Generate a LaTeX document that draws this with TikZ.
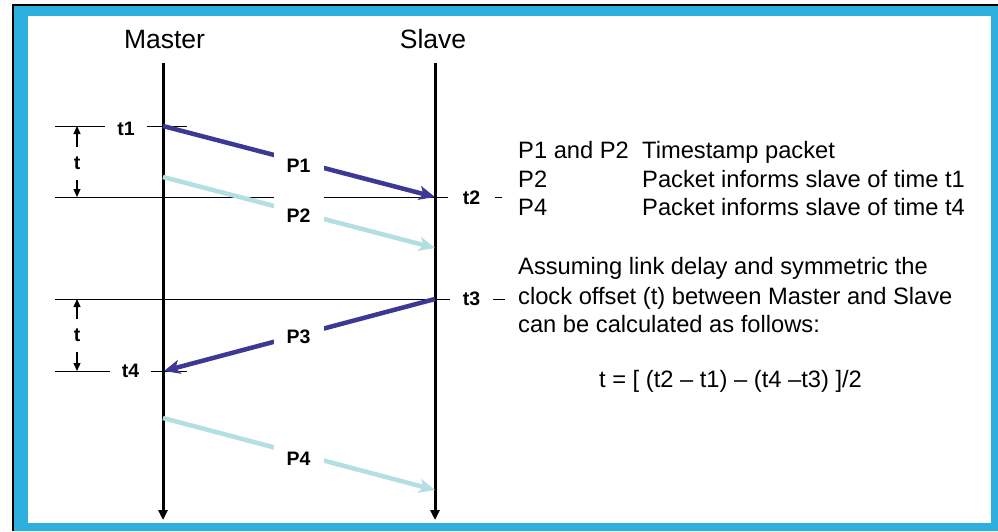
\documentclass[tikz,border=0pt]{standalone}
\usepackage{fontspec}
\setmainfont{Liberation Sans}
\usetikzlibrary{arrows.meta}
\definecolor{frameblue}{HTML}{2DB0DE}
\definecolor{darkarrow}{HTML}{3C3896}
\definecolor{lightarrow}{HTML}{B3DEE2}
\begin{document}
\begin{tikzpicture}[x=1pt,y=-1pt,
  txt/.style={font=\fontsize{23.7}{28}\selectfont, inner sep=0pt, anchor=base west},
  headtxt/.style={font=\fontsize{26.5}{30}\selectfont, inner sep=0pt, anchor=base},
  plabel/.style={font=\bfseries\fontsize{19.5}{22}\selectfont, fill=white, minimum width=50pt, minimum height=44pt, inner sep=0pt},
  tlabel/.style={font=\bfseries\fontsize{19.5}{22}\selectfont, fill=white, inner xsep=0pt, inner ysep=2pt},
  dimlabel/.style={font=\bfseries\fontsize{19.5}{22}\selectfont, fill=white, minimum height=33pt, inner sep=0pt},
  timeline/.style={line width=3pt, -{Triangle[length=10pt,width=9pt]}},
  tick/.style={line width=1pt},
  dimarrow/.style={line width=1.2pt, {Triangle[length=8pt,width=7pt]}-{Triangle[length=8pt,width=7pt]}},
  pkt/.style={line width=4.5pt, -{Stealth[length=16pt,width=14pt,inset=4pt]}},
]
\useasboundingbox (0,0) rectangle (998,531);
% frame
\fill[frameblue] (14,6) rectangle (998,531);
\fill[white] (28,16) rectangle (991,523);
\draw[line width=2pt] (13,4) -- (13,531);
\draw[line width=2pt] (12,5) -- (998,5);

% headings
\node[headtxt] (master) at (164.5,48) {Master};
\node[headtxt] (slave) at (433,48) {Slave};

% coordinates
\coordinate (mtop) at (163,63);
\coordinate (mbot) at (163,520);
\coordinate (stop) at (435,63);
\coordinate (sbot) at (435,520);
\coordinate (t1a) at (55,126);  \coordinate (t1b) at (187,126);
\coordinate (t2a) at (55,197);  \coordinate (t2b) at (502,197);
\coordinate (t3a) at (55,299);  \coordinate (t3b) at (505,299);
\coordinate (t4a) at (55,371);  \coordinate (t4b) at (187,371);
\coordinate (d1a) at (77,126);  \coordinate (d1b) at (77,197);
\coordinate (d2a) at (77,299);  \coordinate (d2b) at (77,371);
\coordinate (p1s) at (163,126); \coordinate (p1e) at (435,197);
\coordinate (p2s) at (163,177); \coordinate (p2e) at (435,248);
\coordinate (p3s) at (435,299); \coordinate (p3e) at (164,371);
\coordinate (p4s) at (163,418); \coordinate (p4e) at (435,490);

% tick lines
\draw[tick] (t1a) -- (t1b);
\draw[tick] (t2a) -- (t2b);
\draw[tick] (t3a) -- (t3b);
\draw[tick] (t4a) -- (t4b);

% dimension arrows
\draw[dimarrow] (d1a) -- (d1b);
\draw[dimarrow] (d2a) -- (d2b);

% time lines
\draw[timeline] (mtop) -- (mbot);
\draw[timeline] (stop) -- (sbot);

% packets
\draw[pkt, lightarrow] (p2s) -- (p2e);
\draw[pkt, lightarrow] (p4s) -- (p4e);
\draw[pkt, darkarrow] (p1s) -- (p1e);
\draw[pkt, darkarrow] (p3s) -- (p3e);

% labels
\node[plabel] (lp1) at (298.5,166) {P1};
\node[plabel] (lp2) at (298.5,216) {P2};
\node[plabel] (lp3) at (298.5,336.5) {P3};
\node[plabel] (lp4) at (298.5,458.5) {P4};

\node[tlabel, minimum width=42pt] (lt1) at (126,128.5) {t1};
\node[tlabel, minimum width=47pt] (lt2) at (471.5,198) {t2};
\node[tlabel, minimum width=43pt] (lt3) at (471.5,299) {t3};
\node[tlabel, minimum width=41pt] (lt4) at (130.5,370.5) {t4};

\node[dimlabel] (ld1) at (77,163.5) {t};
\node[dimlabel] (ld2) at (77,335.5) {t};

% right text
\node[txt] (r1a) at (518,158) {P1 and P2};
\node[txt] (r1b) at (642,158) {Timestamp packet};
\node[txt] (r2a) at (518,187) {P2};
\node[txt] (r2b) at (642,187) {Packet informs slave of time t1};
\node[txt] (r3a) at (518,215.5) {P4};
\node[txt] (r3b) at (642,215.5) {Packet informs slave of time t4};
\node[txt] (r4) at (518,274.5) {Assuming link delay and symmetric the};
\node[txt] (r5) at (518,304) {clock offset (t) between Master and Slave};
\node[txt] (r6) at (518,332.5) {can be calculated as follows:};
\node[txt, anchor=base] (formula) at (730.5,387) {t = [ (t2 – t1) – (t4 –t3) ]/2};
\end{tikzpicture}
\end{document}
